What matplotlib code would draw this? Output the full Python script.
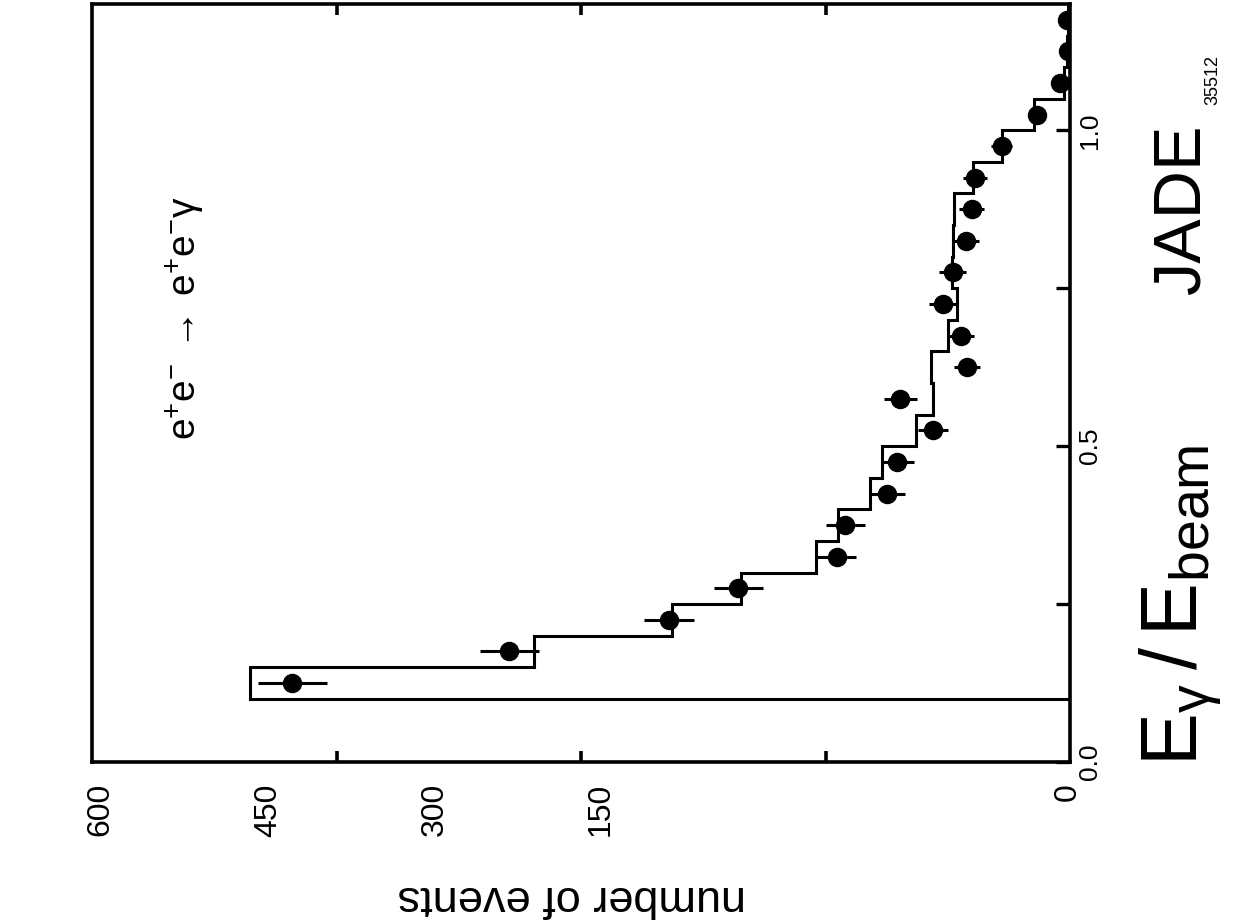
import numpy as np
import matplotlib
matplotlib.use("Agg")
import matplotlib.pyplot as plt

plt.rcParams['font.family'] = ['Liberation Sans', 'DejaVu Sans']
plt.rcParams['mathtext.fontset'] = 'custom'
plt.rcParams['mathtext.rm'] = 'Liberation Sans'

# ---- data ----
bin_edges = [0.10, 0.15, 0.20, 0.25, 0.30, 0.35, 0.40, 0.45, 0.50, 0.55, 0.60,
             0.65, 0.70, 0.75, 0.80, 0.85, 0.90, 0.95, 1.00, 1.05, 1.10, 1.15, 1.20]
mc_counts = [503, 329, 244, 202, 156, 142.5, 122.5, 115.5, 94.5, 84, 85.3,
             74.6, 69.5, 72.6, 72, 71.2, 59.5, 41.7, 22, 3.7, 1.8, 1.2]
data_e = [0.125, 0.175, 0.225, 0.275, 0.325, 0.375, 0.425, 0.475, 0.525, 0.575, 0.625,
          0.675, 0.725, 0.775, 0.825, 0.875, 0.925, 0.975, 1.025, 1.075, 1.125, 1.175]
data_counts = [477, 344, 246, 203.5, 143, 138, 112, 106, 84, 104, 63,
               67, 77.7, 72, 63.8, 60.3, 58.3, 41.9, 20.5, 6.1, 1.2, 1.8]
data_err = [21, 18, 15.6, 15, 12, 12, 10.5, 10, 9, 10, 8,
            8, 9, 8.5, 8, 7.8, 7.6, 6.5, 4.5, 2.5, 1.1, 1.3]

count_ticks = [150, 300, 450]
count_tick_labels = ['600', '450', '300', '150', '0']
e_ticks = [0.0, 0.25, 0.5, 0.75, 1.0]
e_tick_labels = ['0.0', '', '0.5', '', '1.0']

# layout: where the (misplaced) count labels sit in the original, in count units
count_label_pos = [595, 492, 390, 288, 1.5]

fig = plt.figure(figsize=(12.34, 9.24), dpi=100)
ax = fig.add_axes([92/1234, 1 - 762/924, 978/1234, 758/924])

ax.stairs(mc_counts, bin_edges, orientation='horizontal', baseline=0,
          color='black', linewidth=2.2)
ax.errorbar(data_counts, data_e, xerr=data_err, fmt='o', color='black',
            markersize=13, elinewidth=2.2, capsize=0)

ax.set_xlim(600, 0)
ax.set_ylim(0, 1.2)

for s in ax.spines.values():
    s.set_linewidth(2.6)

ax.set_xticks(count_ticks)
ax.tick_params(axis='x', top=True, bottom=True, direction='in', length=8,
               width=2.6, labelbottom=False, labeltop=False)
ax.yaxis.tick_right()
ax.set_yticks(e_ticks)
ax.set_yticklabels(e_tick_labels, rotation=90, fontsize=19, va='center')
ax.tick_params(axis='y', direction='in', length=10, width=2.4, pad=6,
               left=False, right=True)

for lab, pos in zip(count_tick_labels, count_label_pos):
    ax.text(pos, -0.028, lab, transform=ax.get_xaxis_transform(),
            rotation=90, ha='center', va='top', fontsize=23)

fig.text(0.4635, 0.0292, 'number of events', rotation=180,
         ha='center', va='center', fontsize=32.5)
fig.text(0.958, 0.773, 'JADE', rotation=90, ha='center', va='center', fontsize=48)
fig.text(0.957, 0.345, r'$\mathregular{E_{\gamma}\,/\,E_{beam}}$', rotation=90,
         ha='center', va='center', fontsize=57)
fig.text(0.150, 0.656, r'$\mathregular{e^{+}e^{-}\,\rightarrow\,e^{+}e^{-}\gamma}$',
         rotation=90, ha='center', va='center', fontsize=28)
fig.text(0.983, 0.913, '35512', rotation=90, ha='center', va='center', fontsize=13)

fig.savefig('out.png', dpi=100)
